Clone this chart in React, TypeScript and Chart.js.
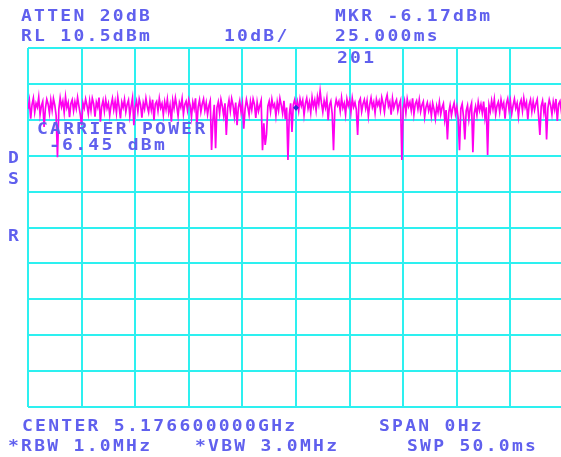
import { useEffect, useRef } from 'react';
import { Chart, registerables } from 'chart.js';

Chart.register(...registerables);

// Sweep / display settings
const SWEEP_MS = 50;
const REF_LEVEL_DBM = 10.5;
const BOTTOM_LEVEL_DBM = -89.5;

// Zero-span trace amplitude in dBm, 401 points over the 50 ms sweep
const traceDbm = [
  -6.5, -4.1, -9.2, -5.3, -3.5, -7.4, -4.9, -6.0, -3.2, -8.1, -5.6, -4.4, -11.5, -6.3, -3.8, -5.1, -7.7, -4.0, -6.8, -3.6,
  -5.4, -8.3, -19.9, -6.6, -3.4, -5.9, -4.3, -7.5, -3.1, -6.1, -4.7, -8.8, -5.0, -3.9, -7.0, -4.5, -6.4, -3.3, -5.7, -8.0,
  -11.0, -4.8, -6.2, -3.7, -5.5, -7.8, -4.2, -6.9, -3.5, -5.0, -8.6, -4.6, -6.0, -3.3, -10.0, -5.8, -4.1, -7.1, -3.9, -6.3,
  -4.9, -8.2, -5.4, -3.6, -6.7, -4.4, -7.6, -3.2, -5.9, -9.1, -4.6, -6.1, -3.8, -7.3, -5.2, -4.0, -8.4, -5.6, -3.4, -11.0,
  -6.0, -4.3, -7.2, -3.7, -5.3, -8.9, -4.8, -6.5, -3.5, -5.8, -7.4, -4.2, -6.7, -3.9, -9.6, -5.1, -4.4, -7.0, -3.6, -6.2,
  -5.0, -8.1, -4.5, -6.6, -3.8, -7.5, -5.4, -10.0, -4.1, -6.3, -3.4, -5.7, -8.5, -4.7, -6.0, -3.6, -7.9, -5.2, -4.3, -6.8,
  -3.9, -5.5, -8.7, -4.6, -6.4, -3.5, -11.5, -5.9, -4.0, -7.3, -5.1, -3.7, -6.9, -4.8, -8.0, -5.6, -4.2, -17.9, -9.4, -5.3,
  -17.4, -6.1, -4.5, -7.7, -3.8, -5.6, -8.3, -4.9, -13.7, -6.2, -4.0, -7.0, -3.6, -5.4, -8.6, -4.7, -11.0, -6.0, -4.2, -7.4,
  -5.0, -12.0, -6.5, -3.9, -5.8, -8.1, -4.4, -6.7, -3.7, -5.2, -9.0, -4.6, -7.1, -5.5, -4.1, -18.0, -10.5, -16.5, -13.5, -5.7,
  -4.3, -7.2, -3.8, -6.0, -5.1, -8.4, -4.6, -6.9, -3.5, -5.4, -7.7, -4.2, -9.3, -6.1, -20.7, -8.0, -4.9, -12.9, -5.3, -3.9,
  -6.17, -4.4, -7.0, -3.7, -5.6, -4.1, -8.2, -5.0, -3.5, -6.4, -4.6, -7.5, -3.3, -5.8, -4.0, -6.9, -3.1, -5.2, -1.5, -4.8,
  -7.3, -4.2, -6.1, -3.6, -9.6, -5.4, -4.3, -7.8, -18.0, -6.0, -3.9, -5.5, -4.4, -7.1, -3.4, -6.2, -4.9, -8.0, -3.7, -5.6,
  -4.1, -7.4, -3.5, -5.9, -4.7, -6.6, -13.7, -4.5, -3.6, -7.2, -5.1, -3.9, -6.3, -4.2, -8.5, -5.3, -3.4, -6.0, -4.6, -7.6,
  -3.8, -5.5, -4.3, -6.8, -3.3, -5.0, -7.3, -4.0, -2.6, -5.7, -4.5, -8.1, -3.6, -6.2, -4.8, -3.9, -7.0, -5.2, -4.1, -20.7,
  -6.4, -4.3, -7.6, -3.7, -5.8, -4.6, -6.9, -3.5, -8.0, -5.1, -4.2, -6.5, -3.9, -7.2, -5.4, -4.4, -8.7, -6.0, -4.7, -7.0,
  -5.3, -8.4, -4.9, -6.6, -9.2, -5.7, -7.4, -4.6, -8.0, -6.1, -5.0, -9.5, -6.8, -15.0, -7.5, -5.4, -8.3, -6.2, -4.8, -7.9,
  -5.9, -9.0, -18.0, -6.4, -5.1, -8.6, -15.0, -7.0, -5.5, -9.4, -6.3, -4.9, -18.5, -7.7, -5.8, -8.2, -4.6, -6.9, -5.2, -7.6,
  -4.4, -8.9, -6.0, -19.3, -5.3, -7.1, -4.2, -6.5, -3.8, -8.0, -5.6, -4.5, -7.3, -3.9, -6.1, -4.8, -9.2, -5.0, -3.6, -6.7,
  -4.3, -7.8, -5.5, -3.7, -6.3, -4.9, -8.6, -5.1, -4.0, -7.0, -3.5, -6.0, -4.6, -9.4, -5.3, -3.9, -7.2, -4.4, -6.8, -5.0,
  -3.8, -8.3, -13.7, -5.7, -4.2, -7.5, -4.7, -15.0, -6.2, -3.9, -5.4, -8.0, -4.5, -6.6, -3.7, -9.8, -5.1, -4.3, -7.1, -5.8,
  -6.0,
];

// Marker readout
const markerTimeMs = [25.0];
const markerDbm = [-6.17];

// Graticule: 10 divisions each way
const timeGridMs = [0, 5, 10, 15, 20, 25, 30, 35, 40, 45, 50];
const levelGridDbm = [10.5, 0.5, -9.5, -19.5, -29.5, -39.5, -49.5, -59.5, -69.5, -79.5, -89.5];

// Screen annotations
const annotations = [
  { text: 'ATTEN 20dB', x: 21, y: 16 },
  { text: 'RL 10.5dBm', x: 21, y: 36 },
  { text: '10dB/', x: 224, y: 36 },
  { text: 'MKR -6.17dBm', x: 335, y: 16 },
  { text: '25.000ms', x: 335, y: 36 },
  { text: '201', x: 337, y: 58 },
  { text: 'CARRIER POWER', x: 37, y: 129 },
  { text: '-6.45 dBm', x: 49, y: 145 },
  { text: 'D', x: 8, y: 158 },
  { text: 'S', x: 8, y: 179 },
  { text: 'R', x: 8, y: 236 },
  { text: 'CENTER 5.176600000GHz', x: 22, y: 426 },
  { text: 'SPAN 0Hz', x: 379, y: 426 },
  { text: '*RBW 1.0MHz', x: 8, y: 446 },
  { text: '*VBW 3.0MHz', x: 195, y: 446 },
  { text: 'SWP 50.0ms', x: 407, y: 446 },
];

const CANVAS_W = 570;
const CANVAS_H = 457;
const GRID_COLOR = 'rgb(45, 240, 240)';
const TRACE_COLOR = 'rgb(255, 0, 240)';
const TEXT_COLOR = '#6060ee';

export default function App() {
  const canvasRef = useRef<HTMLCanvasElement | null>(null);

  useEffect(() => {
    const canvas = canvasRef.current;
    if (!canvas) return;
    const step = SWEEP_MS / (traceDbm.length - 1);
    const chart = new Chart(canvas, {
      type: 'line',
      data: {
        datasets: [
          {
            data: markerTimeMs.map((t, i) => ({ x: t, y: markerDbm[i] })),
            showLine: false,
            pointStyle: 'rectRot',
            pointRadius: 3,
            pointBackgroundColor: '#2a2ad0',
            pointBorderColor: '#2a2ad0',
            pointBorderWidth: 0,
          },
          {
            data: traceDbm.map((v, i) => ({ x: i * step, y: v })),
            borderColor: TRACE_COLOR,
            borderWidth: 1.7,
            pointRadius: 0,
            tension: 0,
            fill: false,
          },
        ],
      },
      options: {
        responsive: false,
        animation: false,
        events: [],
        layout: { padding: { left: 28, top: 48, right: CANVAS_W - 564, bottom: CANVAS_H - 407 } },
        plugins: { legend: { display: false }, tooltip: { enabled: false } },
        scales: {
          x: {
            type: 'linear',
            min: 0,
            max: SWEEP_MS,
            afterBuildTicks: (s: any) => {
              s.ticks = timeGridMs.map((v) => ({ value: v }));
            },
            afterFit: (s: any) => {
              s.height = 0;
            },
            ticks: { display: false },
            border: { display: false },
            grid: { color: GRID_COLOR, lineWidth: 2, drawTicks: false },
          },
          y: {
            type: 'linear',
            min: BOTTOM_LEVEL_DBM,
            max: REF_LEVEL_DBM,
            afterBuildTicks: (s: any) => {
              s.ticks = levelGridDbm.map((v) => ({ value: v }));
            },
            afterFit: (s: any) => {
              s.width = 0;
            },
            ticks: { display: false },
            border: { display: false },
            grid: { color: GRID_COLOR, lineWidth: 2, drawTicks: false },
          },
        },
      },
    });
    return () => chart.destroy();
  }, []);

  return (
    <div
      style={{
        position: 'fixed',
        left: 0,
        top: 0,
        width: 561,
        height: 457,
        overflow: 'hidden',
        background: '#ffffff',
      }}
    >
      <canvas
        ref={canvasRef}
        width={CANVAS_W}
        height={CANVAS_H}
        style={{ position: 'absolute', left: 0, top: 0, width: CANVAS_W, height: CANVAS_H }}
      />
      {annotations.map((a) => (
        <span
          key={a.text}
          style={{
            position: 'absolute',
            left: a.x,
            top: a.y - 7.2,
            fontFamily: '"DejaVu Sans Mono", monospace',
            fontSize: 15,
            fontWeight: 'bold',
            lineHeight: '15px',
            letterSpacing: '1.9px',
            whiteSpace: 'pre',
            color: TEXT_COLOR,
            transform: 'scaleX(1.2)',
            transformOrigin: '0 50%',
          }}
        >
          {a.text}
        </span>
      ))}
    </div>
  );
}
